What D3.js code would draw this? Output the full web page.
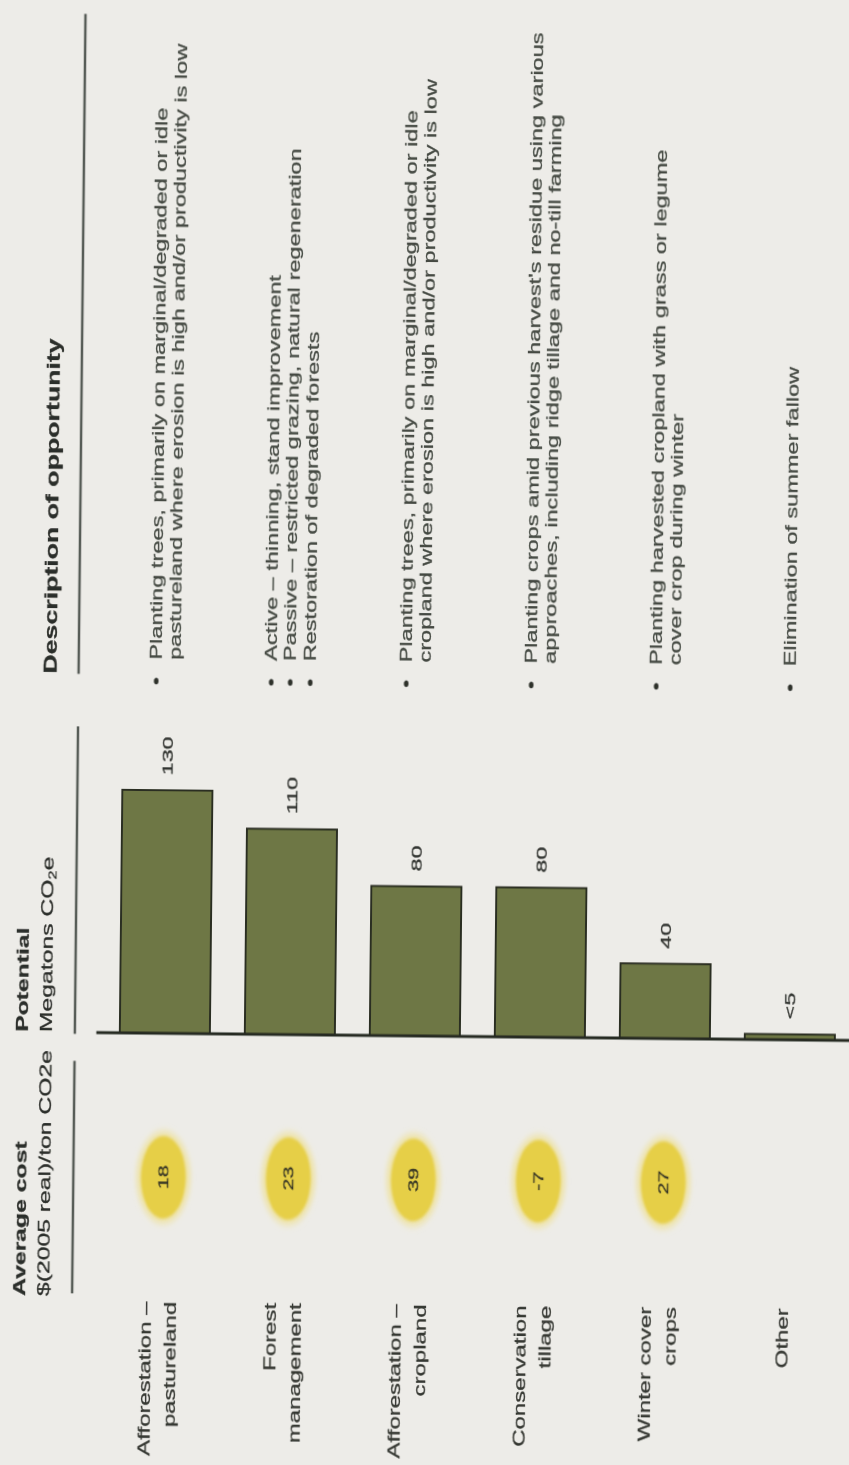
<!DOCTYPE html>
<html>
<head>
<meta charset="utf-8">
<script src="https://cdn.jsdelivr.net/npm/d3@7"></script>
<style>
  html, body { margin: 0; padding: 0; background: #edece8; }
  svg { display: block; }
  text { font-family: "Liberation Sans", Arial, sans-serif; }
</style>
</head>
<body>
<div id="chart"></div>
<script>
const categories = [
  'Afforestation –\npastureland',
  'Forest\nmanagement',
  'Afforestation –\ncropland',
  'Conservation\ntillage',
  'Winter cover\ncrops',
  'Other'
];
const avgCost = [18, 23, 39, -7, 27, null];
const potential = [130, 110, 80, 80, 40, 3];
const potentialLabels = ['130', '110', '80', '80', '40', '<5'];
const descriptions = [
  ['Planting trees, primarily on marginal/degraded or idle\npastureland where erosion is high and/or productivity is low'],
  ['Active – thinning, stand improvement', 'Passive – restricted grazing, natural regeneration', 'Restoration of degraded forests'],
  ['Planting trees, primarily on marginal/degraded or idle\ncropland where erosion is high and/or productivity is low'],
  ["Planting crops amid previous harvest's residue using various\napproaches, including ridge tillage and no-till farming"],
  ['Planting harvested cropland with grass or legume\ncover crop during winter'],
  ['Elimination of summer fallow']
];
const costHeader = ['Average cost', '$(2005 real)/ton CO2e'];
const potentialHeader = ['Potential', 'Megatons CO'];
const descHeader = 'Description of opportunity';

const W = 849;
const H = 1465;
const stretch = 1.5; // the page is drawn sideways and stretched along the text

// inner frame: u runs along the text, v across it
const labelEnd = 107;
const costU = 190;
const axisU = 286;
const bulletU = 518;
const descU = 535;

const svg = d3.select('#chart')
  .append('svg')
  .attr('width', W)
  .attr('height', H);

const defs = svg.append('defs');
defs.append('filter').attr('id', 'soft')
  .append('feGaussianBlur').attr('stdDeviation', 0.45);
defs.append('filter').attr('id', 'halo')
  .attr('x', '-50%').attr('y', '-50%').attr('width', '200%').attr('height', '200%')
  .append('feGaussianBlur').attr('stdDeviation', 2.5);
defs.append('filter').attr('id', 'core')
  .attr('x', '-50%').attr('y', '-50%').attr('width', '200%').attr('height', '200%')
  .append('feGaussianBlur').attr('stdDeviation', 1.1);

const outer = svg.append('g')
  .attr('filter', 'url(#soft)')
  .attr('transform', `rotate(0.6, ${W / 2}, ${H / 2})`);

const g = outer.append('g')
  .attr('transform', `translate(0,${H}) rotate(-90) scale(${stretch},1)`);

const y = d3.scaleBand()
  .domain(categories)
  .range([105.5, 855.5])
  .paddingInner(0.28)
  .paddingOuter(0.14);

const x = d3.scaleLinear()
  .domain([0, 130])
  .range([0, 162]);

const mid = (c) => y(c) + y.bandwidth() / 2;

// headers
const hdr = g.append('g')
  .attr('font-size', 16.5)
  .attr('fill', '#2c2e2a')
  .attr('stroke', '#2c2e2a')
  .attr('stroke-width', 0.25);

hdr.append('text')
  .attr('x', 110).attr('y', 31)
  .attr('font-weight', 'bold')
  .text(costHeader[0]);
hdr.append('text')
  .attr('x', 110).attr('y', 55)
  .text(costHeader[1]);

hdr.append('text')
  .attr('x', axisU).attr('y', 31)
  .attr('font-weight', 'bold')
  .text(potentialHeader[0]);
hdr.append('text')
  .attr('x', axisU).attr('y', 55)
  .call((t) => t.append('tspan').text(potentialHeader[1]))
  .call((t) => t.append('tspan').attr('font-size', 11).attr('dy', 3).text('2'))
  .call((t) => t.append('tspan').attr('dy', -3).text('e'));

hdr.append('text')
  .attr('x', 525).attr('y', 56)
  .attr('font-size', 17.8)
  .attr('font-weight', 'bold')
  .text(descHeader);

const rules = [[112, 267], [285, 490], [525, 965]];
g.append('g')
  .selectAll('line')
  .data(rules)
  .join('line')
  .attr('x1', (d) => d[0])
  .attr('x2', (d) => d[1])
  .attr('y1', 78)
  .attr('y2', 78)
  .attr('stroke', '#575b57')
  .attr('stroke-width', 2.5)
  .attr('vector-effect', 'non-scaling-stroke');

// category labels
const labelLH = 25;
g.append('g')
  .attr('font-size', 16)
  .attr('fill', '#363833')
  .attr('stroke', '#363833')
  .attr('stroke-width', 0.25)
  .attr('text-anchor', 'end')
  .selectAll('text')
  .data(categories)
  .join('text')
  .each(function (c) {
    const lines = c.split('\n');
    d3.select(this)
      .selectAll('tspan')
      .data(lines)
      .join('tspan')
      .attr('x', labelEnd)
      .attr('y', (d, i) => mid(c) - 4 + (i - (lines.length - 1) / 2) * labelLH + 5.5)
      .text((d) => d);
  });

// average cost ovals
const costRows = categories
  .map((c, i) => ({ c, v: avgCost[i] }))
  .filter((d) => d.v !== null);

const ovals = g.append('g');
ovals.selectAll('ellipse.halo')
  .data(costRows)
  .join('ellipse')
  .attr('class', 'halo')
  .attr('cx', costU)
  .attr('cy', (d) => mid(d.c))
  .attr('rx', 31)
  .attr('ry', 27)
  .attr('fill', '#eee3a8')
  .attr('filter', 'url(#halo)');
ovals.selectAll('ellipse.core')
  .data(costRows)
  .join('ellipse')
  .attr('class', 'core')
  .attr('cx', costU)
  .attr('cy', (d) => mid(d.c))
  .attr('rx', 27.5)
  .attr('ry', 22.5)
  .attr('fill', '#e6cf47')
  .attr('filter', 'url(#core)');
ovals.selectAll('text')
  .data(costRows)
  .join('text')
  .attr('x', costU)
  .attr('y', (d) => mid(d.c) + 5)
  .attr('text-anchor', 'middle')
  .attr('font-size', 14.5)
  .attr('fill', '#3b3a28')
  .attr('stroke', '#3b3a28')
  .attr('stroke-width', 0.35)
  .text((d) => d.v);

// bars
g.append('g')
  .selectAll('rect')
  .data(categories)
  .join('rect')
  .attr('x', axisU)
  .attr('y', (c) => y(c))
  .attr('width', (c, i) => x(potential[i]))
  .attr('height', y.bandwidth())
  .attr('fill', '#6e7744')
  .attr('stroke', '#2b2f22')
  .attr('stroke-width', 2)
  .attr('vector-effect', 'non-scaling-stroke');

g.append('line')
  .attr('x1', axisU).attr('x2', axisU)
  .attr('y1', y.range()[0] - 6)
  .attr('y2', y.range()[1])
  .attr('stroke', '#262923')
  .attr('stroke-width', 3)
  .attr('vector-effect', 'non-scaling-stroke');

g.append('g')
  .attr('font-size', 15.5)
  .attr('fill', '#333531')
  .attr('stroke', '#333531')
  .attr('stroke-width', 0.25)
  .selectAll('text')
  .data(categories)
  .join('text')
  .attr('x', (c, i) => axisU + x(potential[i]) + 10)
  .attr('y', (c) => mid(c) + 5.5)
  .text((c, i) => potentialLabels[i]);

// descriptions
const descLH = 19.5;
const descG = g.append('g')
  .attr('font-size', 15.7)
  .attr('fill', '#454a43')
  .attr('stroke', '#454a43')
  .attr('stroke-width', 0.25);

categories.forEach((c, ri) => {
  const lines = [];
  descriptions[ri].forEach((b) => {
    b.split('\n').forEach((l, li) => lines.push({ text: l, bullet: li === 0 }));
  });
  const n = lines.length;
  lines.forEach((l, i) => {
    const yy = mid(c) - 3 + (i - (n - 1) / 2) * descLH + 5.5;
    if (l.bullet) {
      descG.append('text')
        .attr('x', bulletU).attr('y', yy)
        .attr('fill', '#2e302c')
        .text('•');
    }
    descG.append('text')
      .attr('x', descU).attr('y', yy)
      .text(l.text);
  });
});
</script>
</body>
</html>
